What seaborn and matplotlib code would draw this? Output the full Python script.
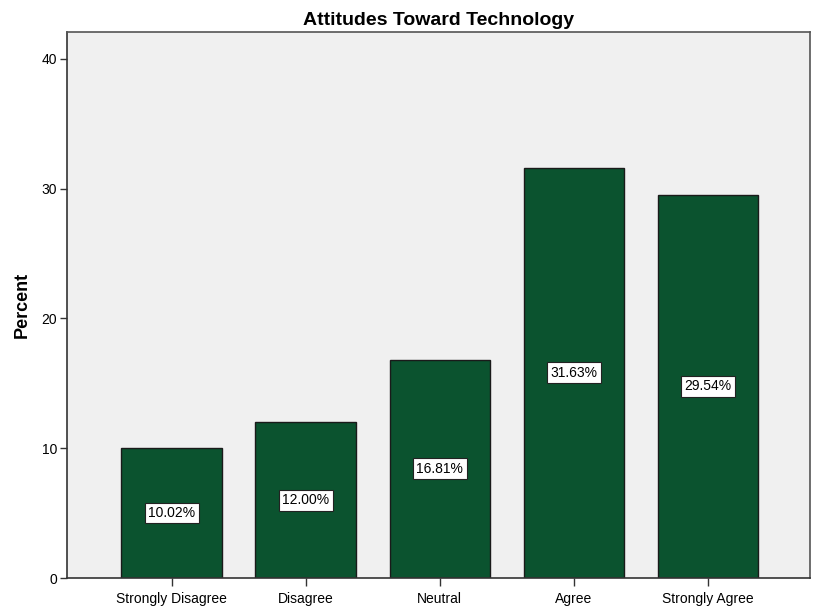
import matplotlib
matplotlib.use("Agg")
import matplotlib.pyplot as plt
import seaborn as sns
import pandas as pd

categories = ["Strongly Disagree", "Disagree", "Neutral", "Agree", "Strongly Agree"]
percents = [10.02, 12.00, 16.81, 31.63, 29.54]
y_ticks = [0, 10, 20, 30, 40]

sns.set_theme(style="white")
plt.rcParams["font.family"] = ["Liberation Sans", "DejaVu Sans"]

df = pd.DataFrame({"Response": categories, "Percent": percents})

fig = plt.figure(figsize=(8.18, 6.11), dpi=100)
ax = fig.add_axes([67 / 818, 33 / 611, 743 / 818, 546 / 611])
ax.set_facecolor("#f0f0f0")

sns.barplot(data=df, x="Response", y="Percent", order=categories,
            color="#0b532f", saturation=1, width=0.75,
            edgecolor="#1a1a1a", linewidth=1.0, ax=ax)

for i, v in enumerate(percents):
    ax.text(i, v / 2, f"{v:.2f}%", ha="center", va="center", fontsize=10,
            color="black",
            bbox=dict(boxstyle="square,pad=0.25", facecolor="white",
                      edgecolor="#222222", linewidth=0.8))

ax.set_xlim(-0.78, 4.76)
ax.set_ylim(0, 42.08)
ax.set_yticks(y_ticks)
ax.set_yticklabels([str(t) for t in y_ticks])

ax.set_title("Attitudes Toward Technology", fontsize=14, fontweight="bold",
             color="black", pad=5)
ax.set_ylabel("Percent", fontsize=13, fontweight="bold", color="black", labelpad=8)
ax.set_xlabel("")

ax.tick_params(axis="both", which="both", bottom=True, left=True,
               top=False, right=False, direction="out", length=6, width=1,
               color="#333333", labelsize=10, labelcolor="black")
ax.tick_params(axis="x", pad=4)
ax.tick_params(axis="y", pad=2, length=5)

for side in ["left", "bottom", "right", "top"]:
    ax.spines[side].set_visible(True)
    ax.spines[side].set_color("#555555")
    ax.spines[side].set_linewidth(1.2)
ax.spines["left"].set_color("#333333")
ax.spines["bottom"].set_color("#333333")

fig.savefig("out.png", dpi=100, facecolor="white")
